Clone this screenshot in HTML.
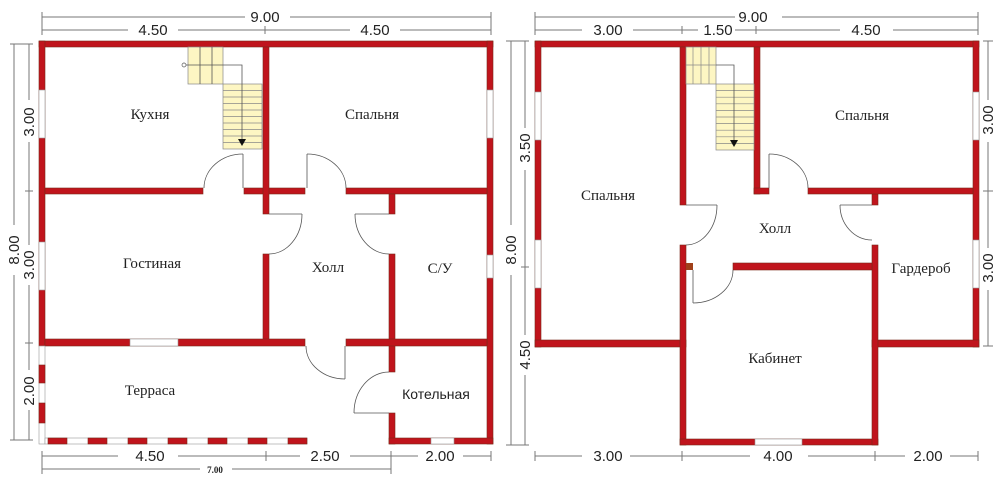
<!DOCTYPE html>
<html><head><meta charset="utf-8"><style>
html,body{margin:0;padding:0;background:#fff;}
svg{display:block}
.w{fill:#c0141c;stroke:#7a2a1a;stroke-width:0.6}
.win{fill:#fff;stroke:#999;stroke-width:0.6}
.d{stroke:#777;stroke-width:1;fill:none}
.dt{font-family:"Liberation Sans",sans-serif;font-size:15px;fill:#222;text-anchor:middle}
.rt{font-family:"Liberation Serif",serif;font-size:15px;fill:#222;text-anchor:middle}
.dr{stroke:#555;stroke-width:0.8;fill:none}
.st{fill:#fdf6c3;stroke:#888;stroke-width:0.7}
</style></head><body>
<svg width="1000" height="482" viewBox="0 0 1000 482" xmlns="http://www.w3.org/2000/svg">
<rect width="1000" height="482" fill="#fff"/>

<g class="d">
<line x1="42" y1="17" x2="245" y2="17"/><line x1="290" y1="17" x2="491" y2="17"/>
<line x1="42" y1="12" x2="42" y2="35"/><line x1="491" y1="12" x2="491" y2="35"/>
<line x1="42" y1="30" x2="128" y2="30"/><line x1="178" y1="30" x2="350" y2="30"/><line x1="400" y1="30" x2="491" y2="30"/>
<line x1="265" y1="26" x2="265" y2="34"/>
<line x1="14" y1="44" x2="14" y2="225"/><line x1="14" y1="275" x2="14" y2="440"/>
<line x1="10" y1="44" x2="33" y2="44"/><line x1="10" y1="440" x2="33" y2="440"/>
<line x1="29" y1="44" x2="29" y2="100"/><line x1="29" y1="142" x2="29" y2="245"/><line x1="29" y1="285" x2="29" y2="370"/><line x1="29" y1="410" x2="29" y2="440"/>
<line x1="25" y1="191" x2="33" y2="191"/><line x1="25" y1="343" x2="33" y2="343"/>
<line x1="42" y1="456" x2="118" y2="456"/><line x1="178" y1="456" x2="300" y2="456"/><line x1="350" y1="456" x2="418" y2="456"/><line x1="463" y1="456" x2="491" y2="456"/>
<line x1="42" y1="451" x2="42" y2="474"/><line x1="266" y1="451" x2="266" y2="461"/><line x1="391" y1="451" x2="391" y2="474"/><line x1="491" y1="451" x2="491" y2="461"/>
<line x1="42" y1="469" x2="200" y2="469"/><line x1="232" y1="469" x2="391" y2="469"/>
</g>
<text class="dt" x="265" y="22">9.00</text>
<text class="dt" x="153" y="35">4.50</text>
<text class="dt" x="375" y="35">4.50</text>
<text class="dt" transform="translate(19,250) rotate(-90)">8.00</text>
<text class="dt" transform="translate(34,122) rotate(-90)">3.00</text>
<text class="dt" transform="translate(34,265) rotate(-90)">3.00</text>
<text class="dt" transform="translate(34,391) rotate(-90)">2.00</text>
<text class="dt" x="150" y="461">4.50</text>
<text class="dt" x="325" y="461">2.50</text>
<text class="dt" x="440" y="461">2.00</text>
<text x="215" y="473" style="font-family:'Liberation Serif',serif;font-size:9px;font-weight:bold;text-anchor:middle;fill:#222">7.00</text>

<rect class="w" x="39" y="41" width="454" height="6"/>
<rect class="w" x="39" y="41" width="6" height="305"/>
<rect class="w" x="487" y="41" width="6" height="403"/>
<rect class="w" x="45" y="188" width="158" height="6"/>
<rect class="w" x="244" y="188" width="61" height="6"/>
<rect class="w" x="346" y="188" width="141" height="6"/>
<rect class="w" x="263" y="47" width="6" height="167"/>
<rect class="w" x="263" y="254" width="6" height="86"/>
<rect class="w" x="389" y="194" width="6" height="20"/>
<rect class="w" x="389" y="254" width="6" height="118"/>
<rect class="w" x="389" y="413" width="6" height="31"/>
<rect class="w" x="45" y="339" width="260" height="7"/>
<rect class="w" x="346" y="339" width="141" height="7"/>
<rect class="w" x="389" y="438" width="104" height="6"/>
<rect class="win" x="39" y="90" width="6" height="48"/>
<rect class="win" x="487" y="90" width="6" height="48"/>
<rect class="win" x="39" y="242" width="6" height="48"/>
<rect class="win" x="487" y="255" width="6" height="23"/>
<rect class="win" x="130" y="339" width="48" height="7"/>
<rect class="win" x="431" y="438" width="23" height="6"/>
<rect class="win" x="39" y="346" width="6" height="98"/>
<rect class="w" x="39" y="365" width="6" height="18"/>
<rect class="w" x="39" y="403" width="6" height="20"/>
<rect class="win" x="45" y="438" width="262" height="6"/>
<g>
<rect class="w" x="48" y="438" width="19" height="6"/>
<rect class="w" x="88" y="438" width="19" height="6"/>
<rect class="w" x="128" y="438" width="19" height="6"/>
<rect class="w" x="168" y="438" width="19" height="6"/>
<rect class="w" x="208" y="438" width="19" height="6"/>
<rect class="w" x="248" y="438" width="19" height="6"/>
<rect class="w" x="288" y="438" width="19" height="6"/>
</g>
<rect class="st" x="188" y="47" width="35" height="37"/>
<g class="dr" stroke="#888"><line x1="200" y1="47" x2="200" y2="84"/><line x1="212" y1="47" x2="212" y2="84"/></g>
<rect class="st" x="223" y="84" width="39" height="65"/>
<g stroke="#888" stroke-width="0.7">
<line x1="223" y1="90.5" x2="262" y2="90.5"/><line x1="223" y1="97" x2="262" y2="97"/><line x1="223" y1="103.5" x2="262" y2="103.5"/><line x1="223" y1="110" x2="262" y2="110"/><line x1="223" y1="116.5" x2="262" y2="116.5"/><line x1="223" y1="123" x2="262" y2="123"/><line x1="223" y1="129.5" x2="262" y2="129.5"/><line x1="223" y1="136" x2="262" y2="136"/><line x1="223" y1="142.5" x2="262" y2="142.5"/>
</g>
<polyline class="dr" points="185,65 242,65 242,140"/>
<circle cx="184" cy="65" r="2" fill="#fff" stroke="#555" stroke-width="0.7"/>
<polygon points="238,139 246,139 242,146" fill="#111"/>
<g class="dr">
<line x1="243" y1="154" x2="243" y2="188"/><path d="M204,188 A39,34 0 0 1 243,154"/>
<line x1="307" y1="154" x2="307" y2="188"/><path d="M307,154 A39,34 0 0 1 346,188"/>
<line x1="269" y1="214" x2="302" y2="214"/><path d="M302,214 A33,40 0 0 1 269,254"/>
<line x1="355" y1="214" x2="389" y2="214"/><path d="M389,254 A34,40 0 0 1 355,214"/>
<line x1="345" y1="346" x2="345" y2="379"/><path d="M306,346 A39,33 0 0 0 345,379"/>
<line x1="354" y1="413" x2="389" y2="413"/><path d="M354,413 A35,41 0 0 1 389,372"/>
</g>
<text class="rt" x="150" y="119">Кухня</text>
<text class="rt" x="372" y="119">Спальня</text>
<text class="rt" x="152" y="268">Гостиная</text>
<text class="rt" x="328" y="272">Холл</text>
<text class="rt" x="440" y="273">С/У</text>
<text class="rt" x="150" y="395">Терраса</text>
<text class="dt" x="436" y="399" style="font-size:14px">Котельная</text>

<g class="d">
<line x1="535" y1="17" x2="735" y2="17"/><line x1="782" y1="17" x2="978" y2="17"/>
<line x1="535" y1="12" x2="535" y2="35"/><line x1="978" y1="12" x2="978" y2="35"/>
<line x1="535" y1="30" x2="582" y2="30"/><line x1="633" y1="30" x2="698" y2="30"/><line x1="735" y1="30" x2="840" y2="30"/><line x1="893" y1="30" x2="978" y2="30"/>
<line x1="682" y1="26" x2="682" y2="34"/><line x1="756" y1="26" x2="756" y2="34"/>
<line x1="511" y1="41" x2="511" y2="225"/><line x1="511" y1="275" x2="511" y2="445"/>
<line x1="506" y1="41" x2="529" y2="41"/><line x1="506" y1="445" x2="529" y2="445"/>
<line x1="525" y1="41" x2="525" y2="128"/><line x1="525" y1="170" x2="525" y2="335"/><line x1="525" y1="375" x2="525" y2="445"/>
<line x1="521" y1="267" x2="529" y2="267"/>
<line x1="988" y1="41" x2="988" y2="100"/><line x1="988" y1="142" x2="988" y2="248"/><line x1="988" y1="290" x2="988" y2="346"/>
<line x1="983" y1="41" x2="993" y2="41"/><line x1="983" y1="191" x2="993" y2="191"/><line x1="983" y1="346" x2="993" y2="346"/>
<line x1="535" y1="456" x2="582" y2="456"/><line x1="630" y1="456" x2="750" y2="456"/><line x1="808" y1="456" x2="905" y2="456"/><line x1="950" y1="456" x2="978" y2="456"/>
<line x1="535" y1="451" x2="535" y2="461"/><line x1="682" y1="451" x2="682" y2="461"/><line x1="875" y1="451" x2="875" y2="461"/><line x1="978" y1="451" x2="978" y2="461"/>
</g>
<text class="dt" x="753" y="22">9.00</text>
<text class="dt" x="608" y="35">3.00</text>
<text class="dt" x="718" y="35">1.50</text>
<text class="dt" x="866" y="35">4.50</text>
<text class="dt" transform="translate(516,250) rotate(-90)">8.00</text>
<text class="dt" transform="translate(530,148) rotate(-90)">3.50</text>
<text class="dt" transform="translate(530,355) rotate(-90)">4.50</text>
<text class="dt" transform="translate(993,120) rotate(-90)">3.00</text>
<text class="dt" transform="translate(993,268) rotate(-90)">3.00</text>
<text class="dt" x="608" y="461">3.00</text>
<text class="dt" x="778" y="461">4.00</text>
<text class="dt" x="928" y="461">2.00</text>

<rect class="w" x="535" y="41" width="444" height="6"/>
<rect class="w" x="535" y="41" width="6" height="306"/>
<rect class="w" x="973" y="41" width="6" height="306"/>
<rect class="w" x="535" y="340" width="151" height="7"/>
<rect class="w" x="872" y="340" width="107" height="7"/>
<rect class="w" x="680" y="47" width="6" height="158"/>
<rect class="w" x="680" y="245" width="6" height="200"/>
<rect class="w" x="680" y="439" width="198" height="6"/>
<rect class="w" x="872" y="245" width="6" height="200"/>
<rect class="w" x="872" y="194" width="6" height="11"/>
<rect class="w" x="808" y="188" width="165" height="6"/>
<rect class="w" x="754" y="47" width="6" height="147"/>
<rect class="w" x="754" y="188" width="15" height="6"/>
<rect class="w" x="733" y="263" width="139" height="7"/>
<rect x="686" y="263" width="7" height="7" fill="#a0401a"/>
<rect class="win" x="535" y="92" width="6" height="48"/>
<rect class="win" x="973" y="92" width="6" height="48"/>
<rect class="win" x="535" y="240" width="6" height="48"/>
<rect class="win" x="973" y="240" width="6" height="48"/>
<rect class="win" x="755" y="439" width="47" height="6"/>
<rect class="st" x="686" y="47" width="30" height="37"/>
<g stroke="#888" stroke-width="0.7"><line x1="693" y1="47" x2="693" y2="84"/><line x1="701" y1="47" x2="701" y2="84"/><line x1="709" y1="47" x2="709" y2="84"/><line x1="686" y1="65" x2="716" y2="65"/></g>
<rect class="st" x="716" y="84" width="38" height="66"/>
<g stroke="#888" stroke-width="0.7">
<line x1="716" y1="90.6" x2="754" y2="90.6"/><line x1="716" y1="97.2" x2="754" y2="97.2"/><line x1="716" y1="103.8" x2="754" y2="103.8"/><line x1="716" y1="110.4" x2="754" y2="110.4"/><line x1="716" y1="117" x2="754" y2="117"/><line x1="716" y1="123.6" x2="754" y2="123.6"/><line x1="716" y1="130.2" x2="754" y2="130.2"/><line x1="716" y1="136.8" x2="754" y2="136.8"/><line x1="716" y1="143.4" x2="754" y2="143.4"/>
</g>
<polyline class="dr" points="716,65 734,65 734,141"/>
<polygon points="730,140 738,140 734,147" fill="#111"/>
<g class="dr">
<line x1="769" y1="154" x2="769" y2="188"/><path d="M769,154 A39,34 0 0 1 808,188"/>
<line x1="686" y1="205" x2="717" y2="205"/><path d="M717,205 A31,40 0 0 1 686,245"/>
<line x1="840" y1="205" x2="872" y2="205"/><path d="M872,240 A32,35 0 0 1 840,205"/>
<line x1="693" y1="270" x2="693" y2="303"/><path d="M693,303 A40,33 0 0 0 733,270"/>
</g>
<text class="rt" x="862" y="120">Спальня</text>
<text class="rt" x="608" y="200">Спальня</text>
<text class="rt" x="775" y="233">Холл</text>
<text class="rt" x="921" y="273">Гардероб</text>
<text class="rt" x="775" y="363">Кабинет</text>
</svg>
</body></html>
